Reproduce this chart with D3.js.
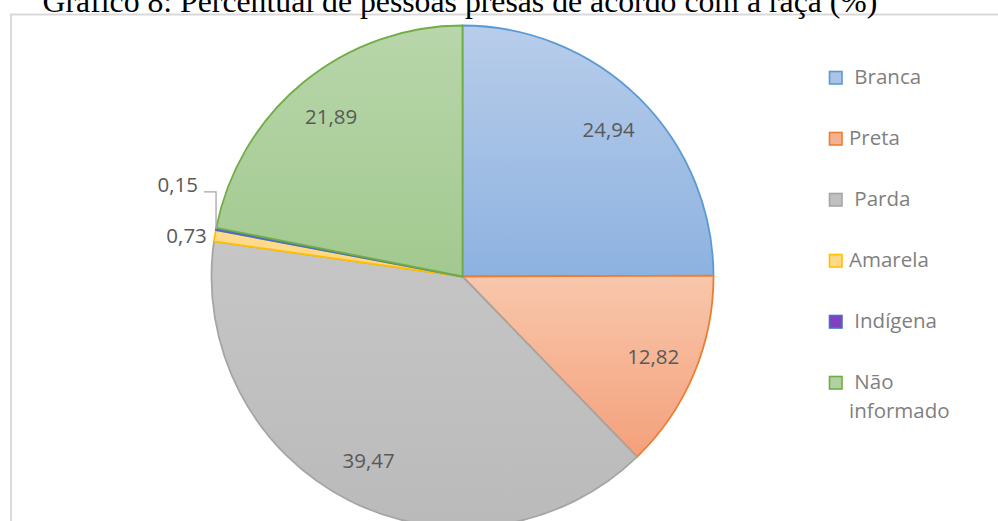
<!DOCTYPE html>
<html>
<head>
<meta charset="utf-8">
<script src="https://cdn.jsdelivr.net/npm/d3@7"></script>
<style>
  html, body { margin: 0; padding: 0; background: #fff; }
  svg { display: block; }
  .pre { white-space: pre; }
</style>
</head>
<body>
<svg id="chart" width="998" height="521"></svg>
<script>
// ---- data ----
const title = "Gráfico 8: Percentual de pessoas presas de acordo com a raça (%)";
const categories = ["Branca", "Preta", "Parda", "Amarela", "Indígena", "Não informado"];
const legendLabels = [" Branca", "Preta", " Parda", "Amarela", " Indígena", " Não informado"];
const values = [24.94, 12.82, 39.47, 0.73, 0.15, 21.89];
const valueLabels = ["24,94", "12,82", "39,47", "0,73", "0,15", "21,89"];

// ---- styles ----
const fillTop    = ["#b8cdea", "#f8c7ac", "#c6c6c6", "#ffdc92", "#7f4fc0", "#b8d6aa"];
const fillBottom = ["#8db2e0", "#f4a07b", "#bababa", "#ffd47a", "#7040b0", "#a2c98f"];
const strokes    = ["#5b9bd5", "#ed7d31", "#a5a5a5", "#ffc000", "#4472c4", "#70ad47"];
const legendFill = ["#a9c4e6", "#f5b291", "#c0c0c0", "#ffd98a", "#8040c0", "#b0d2a0"];

const svg = d3.select("#chart");
const W = 998, H = 521;
const cx = 462.5, cy = 276.5, R = 251;

// chart border
svg.append("rect")
  .attr("x", 11).attr("y", 14.5).attr("width", 1000).attr("height", 600)
  .attr("fill", "none").attr("stroke", "#d9d9d9").attr("stroke-width", 2);

// title
const t = svg.append("text")
  .attr("x", 460).attr("y", 12)
  .attr("text-anchor", "middle")
  .attr("font-family", "'Liberation Serif', 'Times New Roman', serif")
  .attr("font-size", 28)
  .attr("fill", "#000")
  .text(title);
const tl = t.node().getComputedTextLength();
t.attr("font-size", 28 * 835 / tl);

// gradients
const defs = svg.append("defs");
categories.forEach((c, i) => {
  const g = defs.append("linearGradient").attr("id", "g" + i)
    .attr("x1", 0).attr("y1", 0).attr("x2", 0).attr("y2", 1);
  g.append("stop").attr("offset", "0%").attr("stop-color", fillTop[i]);
  g.append("stop").attr("offset", "100%").attr("stop-color", fillBottom[i]);
});

const pie = d3.pie().sort(null).value(d => d)(values);
const arc = d3.arc().innerRadius(0).outerRadius(R);
const gPie = svg.append("g").attr("transform", `translate(${cx},${cy})`);

gPie.selectAll("path.slice").data(pie).join("path")
  .attr("class", "slice")
  .attr("d", arc)
  .attr("fill", (d, i) => `url(#g${i})`)
  .attr("stroke", (d, i) => strokes[i])
  .attr("stroke-width", 1.8)
  .attr("stroke-linejoin", "round");

// labels
const labelFont = "'Open Sans', 'Noto Sans', sans-serif";
const labelSize = 20.5;
const inR = 207;
pie.forEach((d, i) => {
  const a = (d.startAngle + d.endAngle) / 2;
  const frac = values[i] / d3.sum(values);
  if (frac > 0.05) {
    gPie.append("text")
      .attr("x", inR * Math.sin(a))
      .attr("y", -inR * Math.cos(a) + 7.5)
      .attr("text-anchor", "middle")
      .attr("font-family", labelFont).attr("font-size", labelSize)
      .attr("fill", "#595959")
      .text(valueLabels[i]);
  }
});

// small outside labels
const small = pie.map((d, i) => ({d, i})).filter(o => values[o.i] / d3.sum(values) <= 0.05);
small.forEach((o, k) => {
  const a = (o.d.startAngle + o.d.endAngle) / 2;
  const ex = R * Math.sin(a), ey = -R * Math.cos(a);
  if (k === 0) {
    gPie.append("text")
      .attr("x", ex - 8).attr("y", ey + 7)
      .attr("text-anchor", "end")
      .attr("font-family", labelFont).attr("font-size", labelSize)
      .attr("fill", "#595959")
      .text(valueLabels[o.i]);
  } else {
    const ly = ey - 37;
    gPie.append("path")
      .attr("d", `M${ex},${ey}L${ex},${ly}L${ex - 12},${ly}`)
      .attr("fill", "none").attr("stroke", "#a6a6a6").attr("stroke-width", 1.3);
    gPie.append("text")
      .attr("x", ex - 18).attr("y", ly)
      .attr("text-anchor", "end")
      .attr("font-family", labelFont).attr("font-size", labelSize)
      .attr("fill", "#595959")
      .text(valueLabels[o.i]);
  }
});

// legend
const lg = svg.append("g");
legendLabels.forEach((lab, i) => {
  const by = 84 + i * 61;
  lg.append("rect")
    .attr("x", 829.5).attr("y", by - 12.5).attr("width", 12.5).attr("height", 12.5)
    .attr("fill", legendFill[i]).attr("stroke", strokes[i]).attr("stroke-width", 1.6);
  const words = lab.match(/^(\s*\S+)\s+(.*)$/);
  const txt = lg.append("text")
    .attr("class", "pre")
    .attr("x", 849).attr("y", by)
    .attr("font-family", labelFont).attr("font-size", labelSize)
    .attr("fill", "#7f7f7f");
  if (lab.trim().indexOf(" ") > 0) {
    txt.append("tspan").attr("x", 849).attr("y", by).text(words[1]);
    txt.append("tspan").attr("x", 849).attr("y", by + 28.5).text(words[2]);
  } else {
    txt.text(lab);
  }
});
</script>
</body>
</html>
